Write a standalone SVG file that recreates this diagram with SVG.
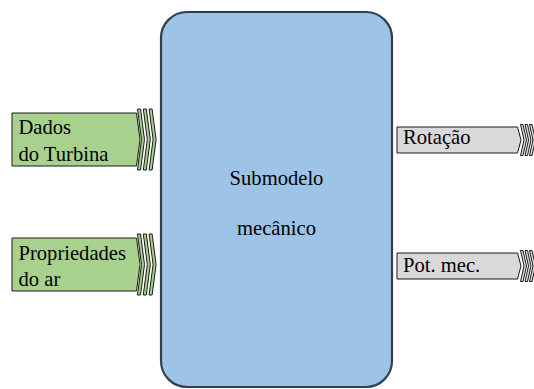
<svg xmlns="http://www.w3.org/2000/svg" width="534" height="389" viewBox="0 0 534 389">
<style>
.in{fill:#a9d18e;stroke:#1a1a1a;stroke-width:1}
.out{fill:#d9d9d9;stroke:#1a1a1a;stroke-width:1}
.main{fill:#9dc3e6;stroke:#333f50;stroke-width:2.2}
</style>
<defs>
<path id="chev" d="M0,-30.5 L3,-30.5 L7,0 L3,30.5 L0,30.5 L4,0 Z"/>
<path id="chevs" d="M0,-15.5 L2.5,-15.5 L6,0 L2.5,15.5 L0,15.5 L3.5,0 Z"/>
</defs>
<g font-family="'Liberation Serif', serif" font-size="20.6" fill="#000">
<g id="main">
<rect class="main" x="161" y="12" width="231" height="375" rx="26" ry="26"/>
<text x="276.5" y="185" text-anchor="middle">Submodelo</text>
<text x="276.5" y="235" text-anchor="middle">mecânico</text>
</g>
<g id="in1">
<path class="in" d="M12,113 L136.5,113 L140,139.5 L136.5,166 L12,166 Z"/>
<use href="#chev" class="in" x="137.5" y="139.5"/>
<use href="#chev" class="in" x="143.3" y="139.5"/>
<use href="#chev" class="in" x="149.1" y="139.5"/>
<text x="18.5" y="134">Dados</text>
<text x="18.5" y="161">do Turbina</text>
</g>
<g id="in2">
<path class="in" d="M12,238 L136.5,238 L140,264.5 L136.5,291 L12,291 Z"/>
<use href="#chev" class="in" x="137.5" y="264.5"/>
<use href="#chev" class="in" x="143.3" y="264.5"/>
<use href="#chev" class="in" x="149.1" y="264.5"/>
<text x="18.5" y="259.5">Propriedades</text>
<text x="18.5" y="286">do ar</text>
</g>
<g id="out1">
<path class="out" d="M397,127 L517.5,127 L521,140 L517.5,153 L397,153 Z"/>
<use href="#chevs" class="out" x="520.5" y="140"/>
<use href="#chevs" class="out" x="525" y="140"/>
<use href="#chevs" class="out" x="529.5" y="140"/>
<text x="403" y="144.3">Rotação</text>
</g>
<g id="out2">
<path class="out" d="M397,253 L517.5,253 L521,266 L517.5,279 L397,279 Z"/>
<use href="#chevs" class="out" x="520.5" y="266"/>
<use href="#chevs" class="out" x="525" y="266"/>
<use href="#chevs" class="out" x="529.5" y="266"/>
<text x="403" y="271.5">Pot. mec.</text>
</g>
</g>
<g id="connectors"></g>
</svg>
